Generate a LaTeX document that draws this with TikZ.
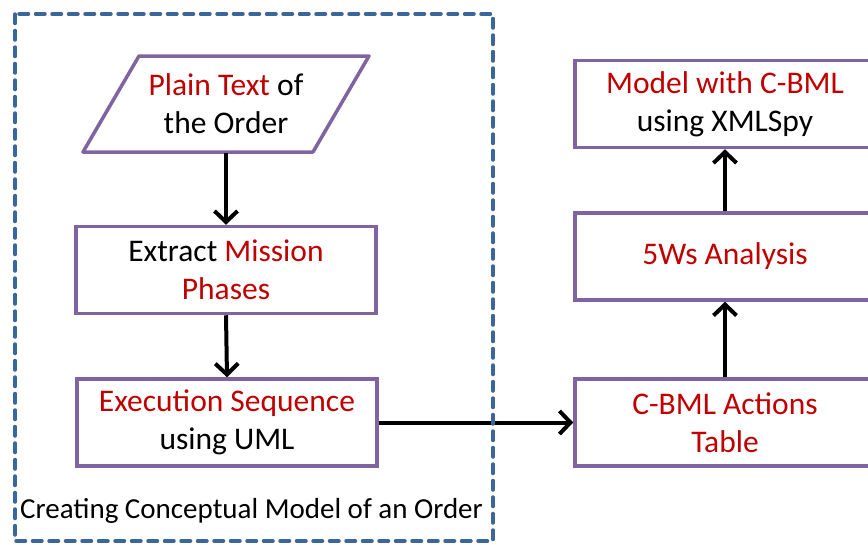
\documentclass[tikz,border=0pt]{standalone}
\usepackage{fontspec}
\setmainfont{Carlito}
\usetikzlibrary{arrows.meta}
\definecolor{boxpurple}{HTML}{8064A2}
\definecolor{txtred}{HTML}{C00000}
\definecolor{dashblue}{HTML}{3B6699}
\begin{document}
\begin{tikzpicture}[x=1pt,y=-1pt,
  txt/.style={align=center, font=\fontsize{31.5}{38}\selectfont, inner sep=0pt},
  box/.style={txt, draw=boxpurple, line width=3.5pt, fill=white, minimum width=300pt, minimum height=87pt},
  conn/.style={line width=4pt, -{Straight Barb[length=11pt,width=23pt,line width=4pt]}}]
\useasboundingbox (0,0) rectangle (868,544);
\clip (0,0) rectangle (868,544);
% parallelogram
\node[txt, minimum width=230pt, minimum height=97pt] (plain) at (226,104) {};
\draw[boxpurple, line width=3.5pt, line join=round, fill=white] (139,56) -- (369,56) -- (313,152) -- (83,152) -- cycle;
\node[txt] at (plain.center) {\textcolor{txtred}{Plain Text} of\\the Order};
\node[box] (extract) at (226,270) {Extract \textcolor{txtred}{Mission}\\\textcolor{txtred}{Phases}};
\node[box] (exec) at (227,422.5) {\textcolor{txtred}{Execution Sequence}\\using UML};
\node[box] (cbml) at (725,422.5) {\textcolor{txtred}{C-BML Actions}\\\textcolor{txtred}{Table}};
\node[box] (fivew) at (725,256.5) {\textcolor{txtred}{5Ws Analysis}};
\node[box] (model) at (725,104) {\textcolor{txtred}{Model with C-BML}\\using XMLSpy};
\node[txt, font=\fontsize{29}{34}\selectfont] (label) at (251.5,511) {Creating Conceptual Model of an Order};
% connectors
\draw[conn] (plain.south) -- (extract.north);
\draw[conn] (extract.south) -- (exec.north);
\draw[conn] (exec.east) -- (cbml.west);
\draw[conn] (cbml.north) -- (fivew.south);
\draw[conn] (fivew.north) -- (model.south);
% dashed frame
\draw[dashblue, line width=3.5pt, dash pattern=on 9.5pt off 7pt, line cap=round] (15,14) rectangle (493,541);
\end{tikzpicture}
\end{document}
